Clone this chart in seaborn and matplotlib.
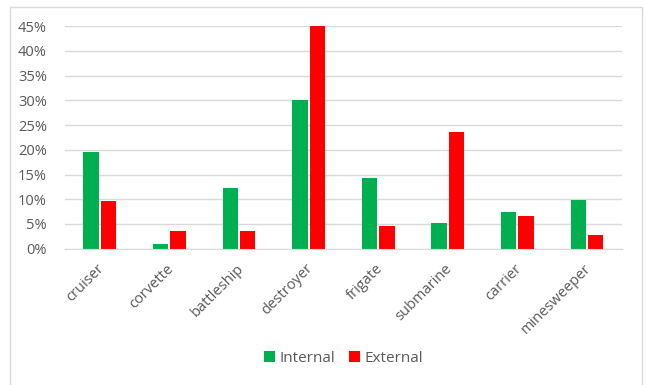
import pandas as pd
import matplotlib.pyplot as plt
import matplotlib.transforms as mtrans
import seaborn as sns
from matplotlib.patches import Rectangle
from matplotlib.ticker import PercentFormatter

# Data (percent)
ships = ['cruiser', 'corvette', 'battleship', 'destroyer',
         'frigate', 'submarine', 'carrier', 'minesweeper']
internal = [19.6, 1.0, 12.2, 30.0, 14.4, 5.3, 7.5, 9.8]
external = [9.6, 3.6, 3.6, 45.0, 4.6, 23.5, 6.7, 2.8]
series = ['Internal', 'External']
colors = {'Internal': '#00B050', 'External': '#FF0000'}


# Build the long-form table seaborn wants
def build_table():
    rows = []
    for name, vals in zip(series, [internal, external]):
        for ship, v in zip(ships, vals):
            rows.append({'ship': ship, 'series': name, 'value': v})
    return pd.DataFrame(rows)


def plot_chart(data):
    sns.set_style('white')
    plt.rcParams['font.family'] = ['Open Sans', 'DejaVu Sans']
    text_col = '#595959'

    fig = plt.figure(figsize=(6.46, 3.85), dpi=100)
    ax = fig.add_axes([0.1006, 0.354, 0.862, 0.578])

    sns.barplot(data=data, x='ship', y='value', hue='series',
                palette=colors, width=0.5, gap=0.12, ax=ax,
                edgecolor='none', saturation=1, legend=True)

    ax.set_ylim(0, 45)
    ax.set_xlim(-0.5, len(ships) - 0.5)
    ax.set_yticks(range(0, 46, 5))
    ax.yaxis.set_major_formatter(PercentFormatter(decimals=0))
    ax.yaxis.grid(True, color='#D9D9D9', linewidth=1)
    ax.set_axisbelow(True)
    for side in ['top', 'right', 'left']:
        ax.spines[side].set_visible(False)
    ax.spines['bottom'].set_color('#D9D9D9')
    ax.tick_params(length=0, colors=text_col, labelsize=10.5)
    ax.tick_params(axis='y', pad=13)
    ax.tick_params(axis='x', pad=9)
    # end of each rotated label sits near the category centre
    shift = mtrans.ScaledTranslation(-3 / 100, 0, fig.dpi_scale_trans)
    for lbl in ax.get_xticklabels():
        lbl.set_rotation(45)
        lbl.set_ha('right')
        lbl.set_rotation_mode('anchor')
        lbl.set_transform(lbl.get_transform() + shift)
    ax.set_xlabel('')
    ax.set_ylabel('')

    ax.legend(loc='center', bbox_to_anchor=(0.5, -0.493), ncol=2,
              frameon=False, fontsize=11, handlelength=0.7,
              handleheight=0.7, handletextpad=0.3, columnspacing=0.9,
              labelcolor=text_col)

    # light gray chart border (bottom edge falls off the image)
    fig.patches.append(Rectangle((10 / 646, -5 / 385), 632 / 646, 383 / 385,
                                 transform=fig.transFigure, fill=False,
                                 edgecolor='#D9D9D9', linewidth=1))

    fig.savefig('out.png', dpi=100)


if __name__ == '__main__':
    plot_chart(build_table())
